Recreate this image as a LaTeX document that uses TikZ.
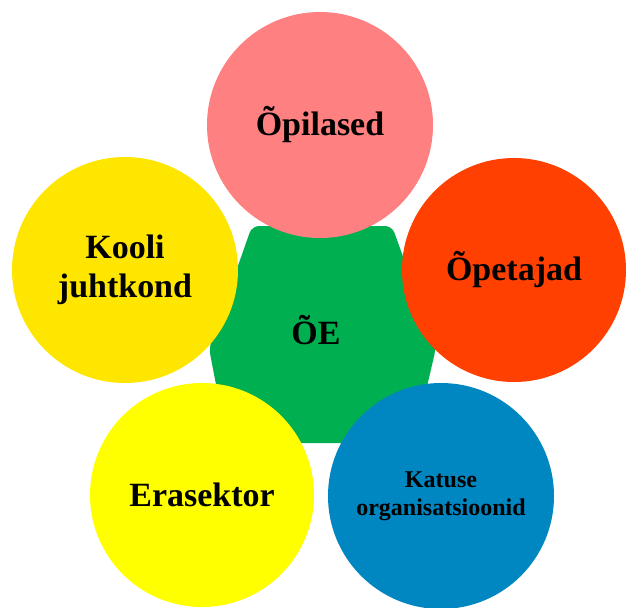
\documentclass[tikz,border=0pt]{standalone}
\usepackage{fontspec}
\setmainfont{Liberation Serif}
\definecolor{roosa}{RGB}{255,128,128}
\definecolor{oranz}{RGB}{255,64,0}
\definecolor{kuldne}{RGB}{255,230,0}
\definecolor{kollane}{RGB}{255,255,0}
\definecolor{sinine}{RGB}{0,134,192}
\definecolor{roheline}{RGB}{0,176,80}
\begin{document}
\begin{tikzpicture}[x=0.03cm, y=-0.03cm,
  bubble/.style={circle, minimum size=6.78cm, inner sep=0pt, align=center,
    font=\bfseries\fontsize{29}{33}\selectfont}]
  \useasboundingbox (0,0) rectangle (631,608);
  % keskmine seitsmenurk
  \fill[roheline, rounded corners=6pt] (252,226) -- (392,226) -- (436,348) -- (425,395)
    -- (360,443) -- (284,443) -- (218,395) -- (209,348) -- cycle;
  \node[font=\bfseries\fontsize{29}{33}\selectfont] (oe) at (316,330) {ÕE};
  % ringid
  \node[bubble, fill=roosa] (opilased) at (320,125) {Õpilased};
  \node[bubble, fill=kuldne] (juhtkond) at (125,270) {Kooli\\juhtkond};
  \node[bubble, fill=oranz, minimum size=6.72cm] (opetajad) at (514,270) {Õpetajad};
  \node[bubble, fill=kollane, minimum size=6.72cm] (erasektor) at (202,495) {Erasektor};
  \node[bubble, fill=sinine, font=\bfseries\fontsize{20.5}{24}\selectfont] (katus) at (441,496) {Katuse\\organisatsioonid};
\end{tikzpicture}
\end{document}
